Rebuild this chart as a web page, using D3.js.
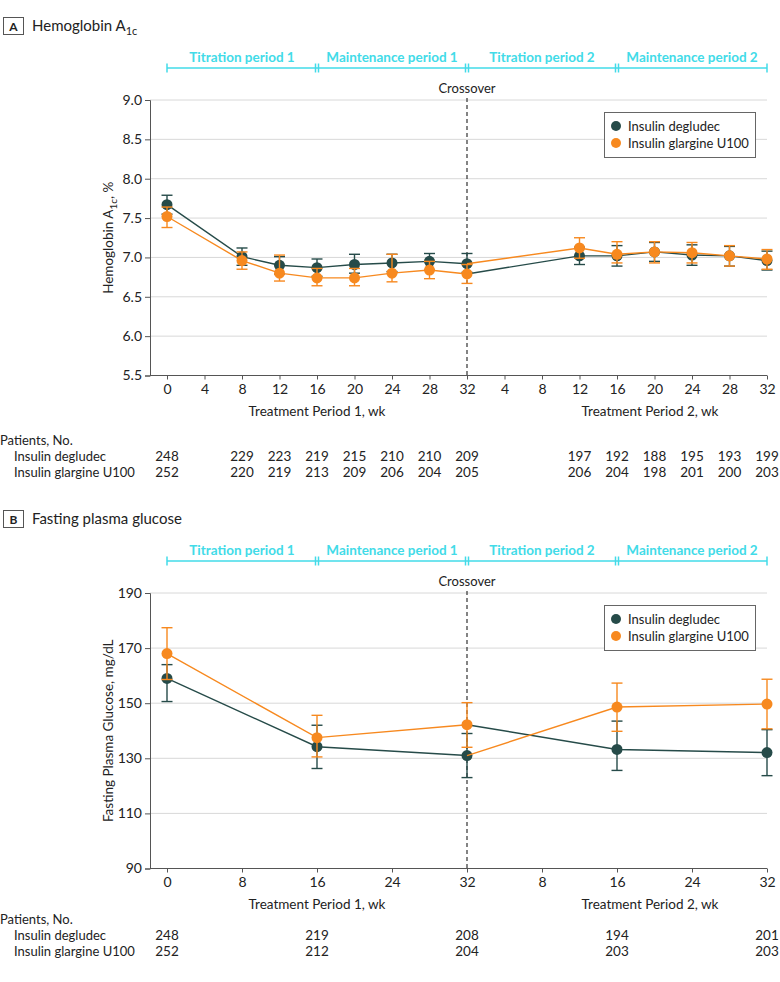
<!DOCTYPE html>
<html>
<head>
<meta charset="utf-8">
<script src="https://cdn.jsdelivr.net/npm/d3@7"></script>
<style>
  body { margin: 0; background: #fff; }
  svg text { font-family: Lato, "Open Sans", sans-serif; fill: #222; }
</style>
</head>
<body>
<svg id="chart" width="780" height="982"></svg>
<script>
// weeks of each visit, period 2 weeks are offset by 32 on the shared scale
const hbaWeeks = [0, 8, 12, 16, 20, 24, 28, 32, 44, 48, 52, 56, 60, 64];
const degHba = [7.67, 7.01, 6.90, 6.87, 6.91, 6.93, 6.95, 6.92, 7.02, 7.02, 7.07, 7.03, 7.02, 6.96];
const degHbaLo = [7.55, 6.90, 6.79, 6.76, 6.80, 6.82, 6.84, 6.81, 6.91, 6.89, 6.95, 6.90, 6.89, 6.84];
const degHbaHi = [7.79, 7.12, 7.01, 6.98, 7.04, 7.04, 7.05, 7.05, 7.13, 7.15, 7.19, 7.16, 7.14, 7.08];
const glaHba = [7.52, 6.96, 6.80, 6.74, 6.74, 6.80, 6.84, 6.79, 7.12, 7.04, 7.07, 7.06, 7.02, 6.98];
const glaHbaLo = [7.38, 6.85, 6.70, 6.64, 6.64, 6.69, 6.73, 6.67, 6.99, 6.93, 6.93, 6.93, 6.89, 6.85];
const glaHbaHi = [7.64, 7.07, 7.03, 6.86, 6.86, 7.04, 6.95, 6.91, 7.25, 7.20, 7.20, 7.19, 7.15, 7.10];
const degHbaN = [248, 229, 223, 219, 215, 210, 210, 209, 197, 192, 188, 195, 193, 199];
const glaHbaN = [252, 220, 219, 213, 209, 206, 204, 205, 206, 204, 198, 201, 200, 203];

const fpgWeeks = [0, 16, 32, 48, 64];
const degFpg = [159.0, 134.2, 131.0, 133.2, 132.1];
const degFpgLo = [150.6, 126.3, 123.0, 125.6, 123.7];
const degFpgHi = [164.0, 142.0, 139.0, 143.5, 140.4];
const glaFpg = [168.0, 137.5, 142.2, 148.6, 149.7];
const glaFpgLo = [158.6, 130.5, 134.0, 139.8, 140.7];
const glaFpgHi = [177.4, 145.6, 150.2, 157.3, 158.7];
const degFpgN = [248, 219, 208, 194, 201];
const glaFpgN = [252, 212, 204, 203, 203];

const periods = ["Titration period 1", "Maintenance period 1", "Titration period 2", "Maintenance period 2"];
const periodEdges = [0, 16, 32, 48, 64];
const seriesNames = ["Insulin degludec", "Insulin glargine U100"];
const hbaTicks = [5.5, 6.0, 6.5, 7.0, 7.5, 8.0, 8.5, 9.0];
const fpgTicks = [90, 110, 130, 150, 170, 190];

const colDeg = "#264b49", colGla = "#f7891f", cyan = "#42dbe8";

const svg = d3.select("#chart");
const x = d3.scaleLinear().domain([0, 64]).range([167, 767]);
const axisLeftX = 150;

function panel(opt) {
  const g = svg.append("g").attr("transform", `translate(0, ${opt.dy})`);
  const y = d3.scaleLinear().domain(opt.yDomain).range([375.5, 100]);

  // header
  g.append("rect").attr("x", 3.5).attr("y", 17.5).attr("width", 20).attr("height", 17)
    .attr("fill", "none").attr("stroke", "#555");
  g.append("text").attr("x", 13.5).attr("y", 30.5).attr("text-anchor", "middle")
    .style("font-weight", "bold").style("font-size", "12px").text(opt.letter);
  const ht = g.append("text").attr("x", 32).attr("y", 31).style("font-size", "15px");
  opt.header(ht);

  // period brackets
  const pb = g.append("g").attr("stroke", cyan).attr("stroke-width", 1.5);
  pb.append("line").attr("x1", x(0)).attr("x2", x(64)).attr("y1", 68).attr("y2", 68);
  periodEdges.forEach((w, i) => {
    const offs = (i === 0 || i === periodEdges.length - 1) ? [0] : [-1.5, 1.5];
    offs.forEach(o => pb.append("line").attr("x1", x(w) + o).attr("x2", x(w) + o)
      .attr("y1", 63.5).attr("y2", 72.5));
  });
  g.selectAll(".plabel").data(periods).join("text")
    .attr("x", (d, i) => (x(periodEdges[i]) + x(periodEdges[i + 1])) / 2)
    .attr("y", 61.5).attr("text-anchor", "middle")
    .style("font-size", "13.5px").style("font-weight", "bold").style("fill", cyan)
    .text(d => d);

  // grid
  g.selectAll(".grid").data(opt.yTicks.slice(1)).join("line")
    .attr("x1", axisLeftX).attr("x2", x(64))
    .attr("y1", d => y(d)).attr("y2", d => y(d))
    .attr("stroke", "#d8d8d8").attr("stroke-width", 1);

  // y axis
  const ya = g.append("g").attr("transform", `translate(${axisLeftX},0)`)
    .call(d3.axisLeft(y).tickValues(opt.yTicks).tickFormat(opt.yFormat).tickSize(5).tickPadding(3));
  ya.selectAll("path, line").attr("stroke", "#555");
  ya.selectAll("text").style("font-size", "14px").style("font-family", "Lato, sans-serif").attr("fill", "#222");

  // x axis
  const xa = g.append("g").attr("transform", "translate(0,375.5)")
    .call(d3.axisBottom(x).tickValues(opt.xTicks).tickFormat(d => d > 32 ? d - 32 : d)
      .tickSize(4).tickPadding(5));
  xa.select(".domain").remove();
  xa.append("line").attr("x1", axisLeftX).attr("x2", x(64)).attr("stroke", "#555");
  xa.selectAll("line").attr("stroke", "#555");
  xa.selectAll("text").style("font-size", "14px").style("font-family", "Lato, sans-serif").attr("fill", "#222");

  g.append("text").attr("x", x(16)).attr("y", 416).attr("text-anchor", "middle")
    .style("font-size", "13.5px").text("Treatment Period 1, wk");
  g.append("text").attr("x", 650).attr("y", 416).attr("text-anchor", "middle")
    .style("font-size", "13.5px").text("Treatment Period 2, wk");

  // y title
  const yt = g.append("text").attr("transform", `translate(113, ${(y.range()[0] + y.range()[1]) / 2}) rotate(-90)`)
    .attr("text-anchor", "middle").style("font-size", "13.5px");
  opt.yTitle(yt);

  // crossover
  g.append("line").attr("x1", x(32)).attr("x2", x(32)).attr("y1", 98).attr("y2", 375.5)
    .attr("stroke", "#333").attr("stroke-width", 1.2).attr("stroke-dasharray", "4,3");
  g.append("text").attr("x", x(32)).attr("y", 93).attr("text-anchor", "middle")
    .style("font-size", "13px").text("Crossover");

  // series; in period 2 each line starts from the other arm's week-32 point (crossover)
  const series = [
    { vals: opt.deg, lo: opt.degLo, hi: opt.degHi, col: colDeg, other: opt.gla },
    { vals: opt.gla, lo: opt.glaLo, hi: opt.glaHi, col: colGla, other: opt.deg }
  ];
  const line = d3.line().x(d => x(d[0])).y(d => y(d[1]));
  const cross = opt.weeks.indexOf(32);
  series.forEach(s => {
    const sg = g.append("g");
    const pts = s.vals.map((v, i) => [opt.weeks[i], v]);
    const p1 = pts.slice(0, cross + 1);
    const p2 = [[32, s.other[cross]]].concat(pts.slice(cross + 1));
    [p1, p2].forEach(p => sg.append("path").datum(p).attr("d", line)
      .attr("fill", "none").attr("stroke", s.col).attr("stroke-width", 1.4));
    const eb = sg.selectAll(".eb").data(s.vals.map((v, i) => i)).join("g")
      .attr("stroke", s.col).attr("stroke-width", 1.4);
    eb.append("line").attr("x1", i => x(opt.weeks[i])).attr("x2", i => x(opt.weeks[i]))
      .attr("y1", i => y(s.lo[i])).attr("y2", i => y(s.hi[i]));
    eb.append("line").attr("x1", i => x(opt.weeks[i]) - 5.5).attr("x2", i => x(opt.weeks[i]) + 5.5)
      .attr("y1", i => y(s.lo[i])).attr("y2", i => y(s.lo[i]));
    eb.append("line").attr("x1", i => x(opt.weeks[i]) - 5.5).attr("x2", i => x(opt.weeks[i]) + 5.5)
      .attr("y1", i => y(s.hi[i])).attr("y2", i => y(s.hi[i]));
    sg.selectAll(".pt").data(s.vals).join("circle")
      .attr("cx", (d, i) => x(opt.weeks[i])).attr("cy", d => y(d)).attr("r", 5.5)
      .attr("fill", s.col);
  });

  // legend
  const lg = g.append("g");
  lg.append("rect").attr("x", 604.5).attr("y", 112.5).attr("width", 151).attr("height", 45)
    .attr("fill", "#fff").attr("stroke", "#666");
  seriesNames.forEach((n, i) => {
    lg.append("circle").attr("cx", 616).attr("cy", 126 + i * 17).attr("r", 5)
      .attr("fill", i === 0 ? colDeg : colGla);
    lg.append("text").attr("x", 628).attr("y", 130.5 + i * 17).style("font-size", "13px").text(n);
  });

  // patients table
  const tb = g.append("g").attr("transform", `translate(0, ${opt.tableY})`);
  tb.append("text").attr("x", 0).attr("y", 0).style("font-size", "13px").text("Patients, No.");
  [[seriesNames[0], opt.degN], [seriesNames[1], opt.glaN]].forEach(([name, ns], r) => {
    tb.append("text").attr("x", 14).attr("y", 16 + r * 16).style("font-size", "13px").text(name);
    tb.selectAll(".n" + r).data(ns).join("text")
      .attr("x", (d, i) => x(opt.weeks[i])).attr("y", 16 + r * 16)
      .attr("text-anchor", "middle").style("font-size", "13.5px").text(d => d);
  });
}

panel({
  dy: 0, letter: "A",
  header: t => { t.append("tspan").text("Hemoglobin A"); t.append("tspan").attr("dy", 4).style("font-size", "11px").text("1c"); },
  yDomain: [5.5, 9.0], yTicks: hbaTicks, yFormat: d3.format(".1f"),
  yTitle: t => {
    t.append("tspan").text("Hemoglobin A");
    t.append("tspan").attr("dy", 4).style("font-size", "10px").text("1c");
    t.append("tspan").attr("dy", -4).text(", %");
  },
  xTicks: d3.range(0, 65, 4),
  weeks: hbaWeeks, deg: degHba, degLo: degHbaLo, degHi: degHbaHi,
  gla: glaHba, glaLo: glaHbaLo, glaHi: glaHbaHi,
  degN: degHbaN, glaN: glaHbaN, tableY: 445
});

panel({
  dy: 493, letter: "B",
  header: t => t.text("Fasting plasma glucose"),
  yDomain: [90, 190], yTicks: fpgTicks, yFormat: d3.format("d"),
  yTitle: t => t.text("Fasting Plasma Glucose, mg/dL"),
  xTicks: d3.range(0, 65, 8),
  weeks: fpgWeeks, deg: degFpg, degLo: degFpgLo, degHi: degFpgHi,
  gla: glaFpg, glaLo: glaFpgLo, glaHi: glaFpgHi,
  degN: degFpgN, glaN: glaFpgN, tableY: 431
});
</script>
</body>
</html>
